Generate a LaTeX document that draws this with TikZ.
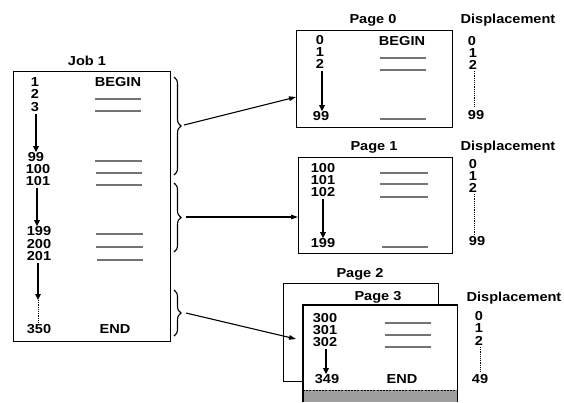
\documentclass[tikz,border=0pt]{standalone}
\usepackage{fontspec}
\newfontfamily\lbl[FakeStretch=1.12]{Liberation Sans Bold}
\usetikzlibrary{decorations.pathreplacing,arrows.meta}

\tikzset{
  txt/.style={font=\lbl\fontsize{13}{15}\selectfont, inner sep=0pt, text height=9.3pt, text depth=0pt},
  frame/.style={draw, line width=1.3pt, inner sep=0pt},
  rule/.style={draw=black!55, line width=1.3pt},
  seq/.style={line width=2pt, -{Triangle[length=6pt,width=5.5pt]}},
  dots/.style={line width=0.8pt, dash pattern=on 1.2pt off 1pt},
  link/.style={line width=1.1pt, -{Triangle[length=7pt,width=4.5pt]}},
  brc/.style={decorate, decoration={brace, amplitude=7pt}, line width=1.1pt},
}

\begin{document}
\begin{tikzpicture}[x=1pt, y=-1pt]
\useasboundingbox (0,0) rectangle (564,402);

% ---------------- Job 1 ----------------
\node[frame, minimum width=157pt, minimum height=270pt, anchor=north west] (job) at (13,71) {};
\node[txt] (jobt) at (87,61) {Job 1};
\node[txt] (j1) at (35,82) {1};
\node[txt] (j2) at (35,94) {2};
\node[txt] (j3) at (35,107) {3};
\node[txt] (j99) at (36,157) {99};
\node[txt] (j100) at (38,169) {100};
\node[txt] (j101) at (38,181) {101};
\node[txt] (j199) at (39,231) {199};
\node[txt] (j200) at (39,244) {200};
\node[txt] (j201) at (39,256) {201};
\node[txt] (j350) at (39,329) {350};
\coordinate (jdot) at (38,300);
\node[txt] (jbeg) at (118,82) {BEGIN};
\node[txt] (jend) at (115,329) {END};
\draw[seq] (j3.south) ++(1,2) coordinate (js1) -- (j99.north -| js1);
\draw[seq] (j101.south) ++(-1,2) coordinate (js2) -- (j199.north -| js2);
\draw[seq] (j201.south) ++(-1,2) coordinate (js3) -- (jdot);
\draw[dots] (jdot) -- (j350.north -| jdot);
\foreach \y/\a/\b in {99/95/141,111/95/141,161/95/142,173/96/142,185/96/142,234/96/143,247/96/143,260/97/143}
  \draw[rule] (\a,\y) -- (\b,\y);

% braces grouping the job into pages
\draw[brc] (174,77) -- (174,175) coordinate[midway] (b0m);
\draw[brc] (174,183) -- (174,252) coordinate[midway] (b1m);
\draw[brc] (174,290) -- (174,336) coordinate[midway] (b2m);
\coordinate (b0) at (184,125);
\coordinate (b1) at (186,217);
\coordinate (b2) at (186,313);

% ---------------- Page 0 ----------------
\node[frame, minimum width=156pt, minimum height=97pt, anchor=north west] (p0) at (296,30) {};
\node[txt] (p0t) at (373,19) {Page 0};
\node[txt] (p0a) at (320,40) {0};
\node[txt] (p0b) at (320,52) {1};
\node[txt] (p0c) at (320,64) {2};
\node[txt] (p0z) at (321,116) {99};
\node[txt] (p0beg) at (402,41) {BEGIN};
\draw[seq] (p0c.south) ++(2,2) coordinate (p0s) -- (p0z.north -| p0s);
\foreach \y in {58,70,119} \draw[rule] (380,\y) -- (426,\y);
\node[txt] (d0t) at (508,19) {Displacement};
\node[txt] (d0a) at (472,41) {0};
\node[txt] (d0b) at (473,53) {1};
\node[txt] (d0c) at (473,65) {2};
\node[txt] (d0z) at (476,115) {99};
\draw[dots] (474,71) -- (474,108);

% ---------------- Page 1 ----------------
\node[frame, minimum width=154pt, minimum height=96pt, anchor=north west] (p1) at (298,157) {};
\node[txt] (p1t) at (374,146) {Page 1};
\node[txt] (p1a) at (323,168) {100};
\node[txt] (p1b) at (323,180) {101};
\node[txt] (p1c) at (323,192) {102};
\node[txt] (p1z) at (323,243) {199};
\draw[seq] (p1c.south) ++(0,2) coordinate (p1s) -- (p1z.north -| p1s);
\foreach \y/\a in {173/380,184/380,197/380,247/382} \draw[rule] (\a,\y) -- (428,\y);
\node[txt] (d1t) at (508,146) {Displacement};
\node[txt] (d1a) at (473,164) {0};
\node[txt] (d1b) at (473,176) {1};
\node[txt] (d1c) at (473,188) {2};
\node[txt] (d1z) at (477,241) {99};
\draw[dots] (474,194) -- (474,234);

% ---------------- Pages 2 and 3 ----------------
\node[frame, fill=white, minimum width=155pt, minimum height=98pt, anchor=north west] (p2) at (283,283) {};
\node[txt] (p2t) at (360,273) {Page 2};
\node[txt] (p3t) at (378,296) {Page 3};
\node[fill=white, inner sep=0pt, minimum width=154pt, minimum height=97pt, anchor=north west] (p3) at (303,305) {};
\fill[black!38] (p3.south west) ++(0,-12) rectangle (p3.south east);
\draw[line width=1pt, dash pattern=on 2pt off 1.2pt] (p3.south west) ++(0,-12) -- ++(154,0);
\draw[line width=1.3pt] (p3.south west) -- (p3.north west) -- (p3.north east) -- (p3.south east);
\node[txt] (p3a) at (325,318) {300};
\node[txt] (p3b) at (325,330) {301};
\node[txt] (p3c) at (325,342) {302};
\node[txt] (p3z) at (327,379) {349};
\node[txt] (p3end) at (402,379) {END};
\draw[seq] (p3c.south) ++(1,2) coordinate (p3s) -- (p3z.north -| p3s);
\foreach \y in {323,335,347} \draw[rule] (385,\y) -- (431,\y);
\node[txt] (d3t) at (514,297) {Displacement};
\node[txt] (d3a) at (479,316) {0};
\node[txt] (d3b) at (479,328) {1};
\node[txt] (d3c) at (479,341) {2};
\node[txt] (d3z) at (480,379) {49};
\draw[dots] (480,347) -- (480,372);

% ---------------- connectors from the braces ----------------
\coordinate (e0) at (p0.west |- 0,97);
\coordinate (e1) at (p1.west |- 0,217);
\coordinate (e2) at (296,339);
\draw[link] (b0) -- (e0);
\draw[link] (b1) -- (e1);
\draw[link] (b2) -- (e2);
\end{tikzpicture}
\end{document}
